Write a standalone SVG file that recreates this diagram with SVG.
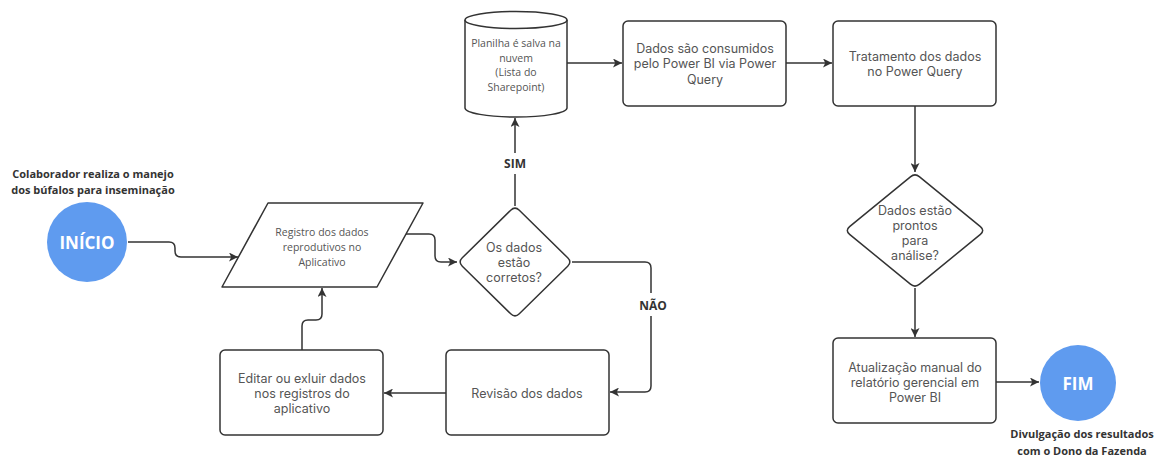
<svg xmlns="http://www.w3.org/2000/svg" width="1165" height="458" viewBox="0 0 1165 458">
<defs>
<style>
.shape{fill:#fff;stroke:#333;stroke-width:1.5;stroke-linejoin:round}
.conn{fill:none;stroke:#333;stroke-width:1.5}
.t{font-family:Inter,"Liberation Sans",sans-serif;font-size:12.5px;fill:#555;text-anchor:middle;dominant-baseline:central}
.ts{font-family:"Open Sans","Noto Sans",sans-serif;font-size:10.5px;fill:#555;text-anchor:middle;dominant-baseline:central}
.lb{font-family:"Open Sans","Noto Sans",sans-serif;font-size:11px;font-weight:bold;fill:#333;text-anchor:middle;dominant-baseline:central}
.lb2{font-family:"Open Sans","Noto Sans",sans-serif;font-size:12px;font-weight:bold;fill:#333;text-anchor:middle;dominant-baseline:central}
.circ{fill:#5f9bef}
.ct{font-family:"Open Sans","Noto Sans",sans-serif;font-size:17px;font-weight:bold;fill:#fff;text-anchor:middle;dominant-baseline:central}
</style>
<marker id="arr" viewBox="0 0 10 10" refX="10" refY="5" markerWidth="10" markerHeight="9" markerUnits="userSpaceOnUse" orient="auto">
<path d="M0,0 L10,5 L0,10 L2.5,5 Z" fill="#333"/>
</marker>
</defs>

<g id="connectors">
<path class="conn" d="M128,242 H169 Q175,242 175,248 V251 Q175,257 181,257 H238" marker-end="url(#arr)"/>
<path class="conn" d="M406,234 H429 Q435,234 435,240 V256 Q435,262 441,262 H457" marker-end="url(#arr)"/>
<path class="conn" d="M515,206 V174"/>
<path class="conn" d="M515,153 V118" marker-end="url(#arr)"/>
<path class="conn" d="M567,63 H622" marker-end="url(#arr)"/>
<path class="conn" d="M786,63 H832" marker-end="url(#arr)"/>
<path class="conn" d="M915,106 V172" marker-end="url(#arr)"/>
<path class="conn" d="M915,288 V337" marker-end="url(#arr)"/>
<path class="conn" d="M996,382 H1039" marker-end="url(#arr)"/>
<path class="conn" d="M572,262 H645 Q651,262 651,268 V293"/>
<path class="conn" d="M651,316 V386 Q651,392 645,392 H610" marker-end="url(#arr)"/>
<path class="conn" d="M446,393 H384" marker-end="url(#arr)"/>
<path class="conn" d="M302,350 V326 Q302,320 308,320 H316 Q322,320 322,314 V288" marker-end="url(#arr)"/>
<text class="lb2" x="515" y="163">SIM</text>
<text class="lb2" x="653" y="305">NÃO</text>
</g>

<g id="inicio">
<text class="lb" x="93" y="173">Colaborador realiza o manejo</text>
<text class="lb" x="93" y="189">dos búfalos para inseminação</text>
<circle class="circ" cx="87" cy="242" r="40"/>
<text class="ct" x="87" y="242">INÍCIO</text>
</g>

<g id="registro">
<polygon class="shape" points="268,203 423,203 377,287 222,287"/>
<text class="ts" x="322" y="232">Registro dos dados</text>
<text class="ts" x="322" y="247">reprodutivos no</text>
<text class="ts" x="322" y="262">Aplicativo</text>
</g>

<g id="decisao1">
<path class="shape" d="M519.3,210.2 L567.7,257.8 Q572,262 567.7,266.2 L519.3,313.8 Q515,318 510.7,313.8 L462.3,266.2 Q458,262 462.3,257.8 L510.7,210.2 Q515,206 519.3,210.2 Z"/>
<text class="t" x="514" y="247">Os dados</text>
<text class="t" x="514" y="262">estão</text>
<text class="t" x="514" y="277">corretos?</text>
</g>

<g id="planilha">
<path class="shape" d="M465,20 V108 A51,9 0 0 0 567,108 V20"/>
<ellipse class="shape" cx="516" cy="20" rx="51" ry="8.5"/>
<text class="ts" x="516" y="43">Planilha é salva na</text>
<text class="ts" x="516" y="58">nuvem</text>
<text class="ts" x="516" y="72">(Lista do</text>
<text class="ts" x="516" y="87">Sharepoint)</text>
</g>

<g id="consumo">
<rect class="shape" x="623" y="21" width="163" height="85" rx="5"/>
<text class="t" x="705" y="48">Dados são consumidos</text>
<text class="t" x="705" y="63">pelo Power BI via Power</text>
<text class="t" x="705" y="79">Query</text>
</g>

<g id="tratamento">
<rect class="shape" x="833" y="21" width="163" height="85" rx="5"/>
<text class="t" x="915" y="56">Tratamento dos dados</text>
<text class="t" x="915" y="71">no Power Query</text>
</g>

<g id="decisao2">
<path class="shape" d="M919.6,176.8 L980.4,226.7 Q985,230.5 980.4,234.3 L919.6,284.2 Q915,288 910.4,284.2 L849.6,234.3 Q845,230.5 849.6,226.7 L910.4,176.8 Q915,173 919.6,176.8 Z"/>
<text class="t" x="915" y="210">Dados estão</text>
<text class="t" x="915" y="225">prontos</text>
<text class="t" x="915" y="240">para</text>
<text class="t" x="915" y="255">análise?</text>
</g>

<g id="atualizacao">
<rect class="shape" x="833" y="338" width="163" height="85" rx="5"/>
<text class="t" x="915" y="367">Atualização manual do</text>
<text class="t" x="915" y="382">relatório gerencial em</text>
<text class="t" x="915" y="397">Power BI</text>
</g>

<g id="fim">
<circle class="circ" cx="1078" cy="383" r="38"/>
<text class="ct" x="1078" y="383">FIM</text>
<text class="lb" x="1082" y="433">Divulgação dos resultados</text>
<text class="lb" x="1082" y="450">com o Dono da Fazenda</text>
</g>

<g id="revisao">
<rect class="shape" x="446" y="350" width="163" height="85" rx="5"/>
<text class="t" x="527" y="393">Revisão dos dados</text>
</g>

<g id="editar">
<rect class="shape" x="220" y="350" width="163" height="85" rx="5"/>
<text class="t" x="302" y="378">Editar ou exluir dados</text>
<text class="t" x="302" y="393">nos registros do</text>
<text class="t" x="302" y="408">aplicativo</text>
</g>
</svg>
